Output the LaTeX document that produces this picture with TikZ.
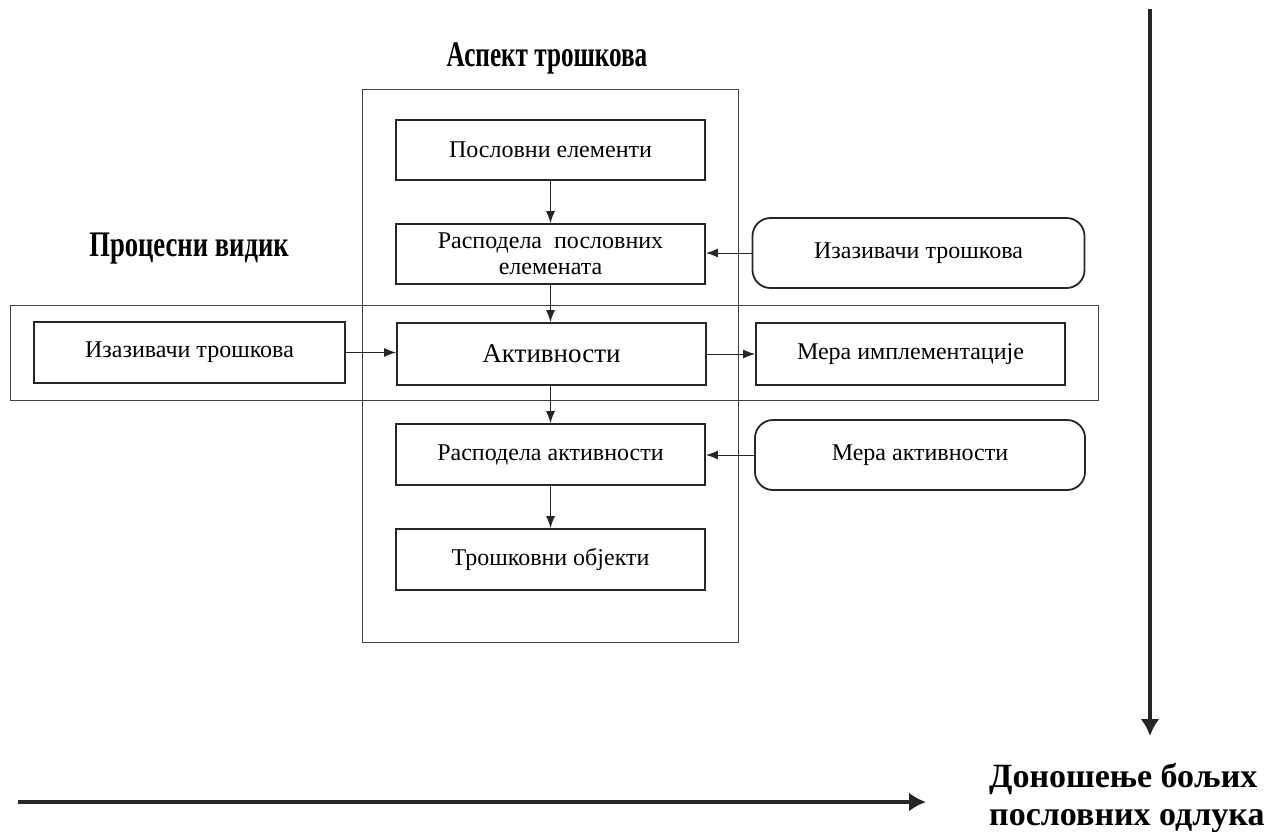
\documentclass[tikz,border=0pt]{standalone}
\usepackage{fontspec}
\setmainfont{Liberation Serif}
\usetikzlibrary{arrows.meta,positioning}
\tikzset{
  frame/.style={draw=black!75, line width=0.9pt, inner sep=0pt},
  box/.style={draw=black!85, line width=1.8pt, minimum width=309pt, minimum height=61pt, align=center, inner sep=2pt, font=\fontsize{24}{26}\selectfont},
  rbox/.style={box, rounded corners=18pt, minimum width=332pt, minimum height=70pt},
  conn/.style={draw=black!85, line width=1pt, -{Latex[length=12pt,width=9pt]}},
  big/.style={draw=black!85, line width=3.2pt, -{Latex[length=17pt,width=19pt]}},
  ttl/.style={inner sep=0pt, font=\fontsize{36}{40}\selectfont\bfseries}
}
\newcommand{\cond}[2]{\scalebox{#1}[1]{#2}}
\begin{document}
\begin{tikzpicture}[x=1pt,y=-1pt]
\useasboundingbox (0,0) rectangle (1265,831);
% frames
\node[frame, minimum width=376pt, minimum height=553pt] (asp) at (550,365.5) {};
\node[frame, minimum width=1088pt, minimum height=95pt] (proc) at (554,352.5) {};
% titles
\node[ttl] (tasp) at (547,58) {\cond{0.70}{Аспект трошкова}};
\node[ttl] (tproc) at (189,249) {\cond{0.74}{Процесни видик}};
% boxes
\node[box, fill=white, minimum height=60pt] (pe) at (550.5,150) {Пословни елементи};
\node[box, fill=white, minimum height=60pt] (rpe) at (550.5,254) {Расподела\ \ пословних\\елемената};
\node[box, fill=white, minimum height=62pt] (akt) at (551.5,354) {\fontsize{27}{30}\selectfont Активности};
\node[box, fill=white] (ra) at (550.5,454.5) {Расподела активности};
\node[box, fill=white] (to) at (550.5,559.5) {Трошковни објекти};
\node[box, fill=white, minimum width=311pt] (izl) at (189.5,352.5) {Изазивачи трошкова};
\node[box, fill=white, minimum height=62pt] (mi) at (910.5,354) {Мера имплементације};
\node[rbox, fill=white] (izr) at (918.5,253) {Изазивачи трошкова};
\node[rbox, fill=white, minimum width=330pt] (ma) at (920,455) {Мера активности};
% connectors
\draw[conn] (pe) -- (rpe);
\draw[conn] (rpe) -- (rpe.south |- akt.north);
\draw[conn] (akt.south -| ra.north) -- (ra);
\draw[conn] (ra) -- (to);
\draw[conn] (izr.west) -- (izr.west -| rpe.east);
\draw[conn] (ma.west) -- (ma.west -| ra.east);
\draw[conn] (izl.east) -- (izl.east -| akt.west);
\draw[conn] (akt.east) -- (akt.east -| mi.west);
% big arrows
\coordinate (vtop) at (1150,9);
\coordinate (vbot) at (1150,736);
\coordinate (hl) at (18,802);
\coordinate (hr) at (926,802);
\draw[big] (vtop) -- (vbot);
\draw[big] (hl) -- (hr);
\node[inner sep=0pt, align=left, anchor=west, font=\fontsize{34}{38}\selectfont\bfseries] (dec) at (989,798) {Доношење бољих\\пословних одлука};
\end{tikzpicture}
\end{document}
